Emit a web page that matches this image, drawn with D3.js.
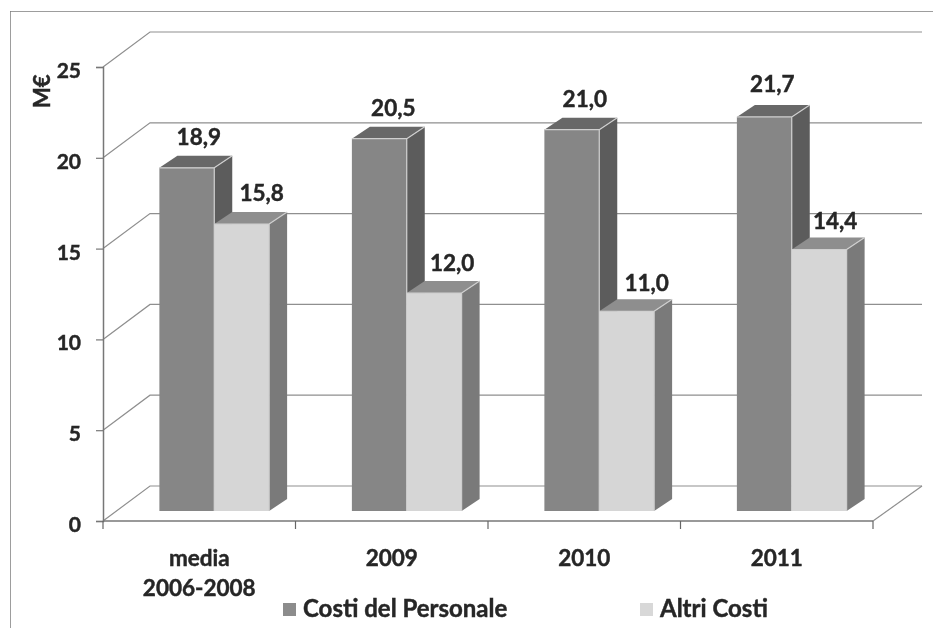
<!DOCTYPE html>
<html lang="en">
	<head>
		<meta charset="utf-8">
		<title>Costi</title>
		<script src="https://d3js.org/d3.v7.min.js"></script>
		<style type="text/css">
			html, body { margin: 0; padding: 0; background: #fff; }
			svg { display: block; }
			text { font-family: Lato, "Open Sans", sans-serif; font-weight: 700; fill: #262626; stroke: #262626; stroke-width: 0.45; }
		</style>
	</head>
	<body>
		<script type="text/javascript">
			//Data
			var categories = [["media", "2006-2008"], ["2009"], ["2010"], ["2011"]];
			var seriesNames = ["Costi del Personale", "Altri Costi"];
			var costiPersonale = [18.9, 20.5, 21.0, 21.7];
			var altriCosti = [15.8, 12.0, 11.0, 14.4];
			var yTicks = [0, 5, 10, 15, 20, 25];

			//Label nudges, per series and category
			var nudgeX = [[12, 14, 13, 8], [20, 18, 20, 16]];
			var nudgeY = [[1, 1, 1, -1], [1, 2, 4, 4]];

			//Width and height
			var w = 933;
			var h = 628;
			var left = 103, right = 873, top0 = 67, bottom = 521;
			var wallX = 47, wallY = 35;		//back wall offset
			var barShiftX = 15, barShiftY = 10;	//bar sits inside the floor
			var depthX = 18, depthY = 12;		//bar depth

			var names = categories.map(function(d) { return d.join(" "); });
			var series = [costiPersonale, altriCosti];

			var fronts = ["#868686", "#d6d6d6"];
			var tops = ["#686868", "#8e8e8e"];
			var sides = ["#5c5c5c", "#7a7a7a"];
			var legendColors = ["#8c8c8c", "#d8d8d8"];

			//Scales
			var x0 = d3.scaleBand().domain(names).range([left, right]).paddingInner(0.43).paddingOuter(0.215);
			var x1 = d3.scaleBand().domain([0, 1]).range([0, x0.bandwidth()]);
			var y = d3.scaleLinear().domain([0, 25]).range([bottom, top0]);

			var svg = d3.select("body").append("svg").attr("width", w).attr("height", h);

			var defs = svg.append("defs");
			defs.append("filter").attr("id", "scan")
				.attr("x", 0).attr("y", 0).attr("width", 1).attr("height", 1)
				.append("feGaussianBlur").attr("stdDeviation", 0.7);

			var g = svg.append("g").attr("filter", "url(#scan)");

			//Frame, only top and left show
			g.append("path")
				.attr("d", "M10,628V11H933")
				.attr("fill", "none").attr("stroke", "#7d7d7d").attr("stroke-width", 1.5);

			//Walls and gridlines
			g.append("g").selectAll("path")
				.data(yTicks)
				.enter()
				.append("path")
				.attr("fill", "none")
				.attr("stroke", "#8f8f8f")
				.attr("stroke-width", 1.2)
				.attr("d", function(d) {
					var p = y(d);
					return "M" + left + "," + p + "L" + (left + wallX) + "," + (p - wallY) + "H" + (right + wallX + 2);
				});

			//Floor right edge
			g.append("line")
				.attr("x1", right).attr("y1", bottom)
				.attr("x2", right + wallX + 2).attr("y2", bottom - wallY)
				.attr("stroke", "#8f8f8f").attr("stroke-width", 1.2);

			//Y axis
			var yAxis = d3.axisLeft(y).tickValues(yTicks).tickSize(7).tickPadding(15);
			var yG = g.append("g")
				.attr("transform", "translate(" + left + ",0)")
				.call(yAxis);
			yG.selectAll("line").attr("stroke", "#777").attr("stroke-width", 1.2);
			yG.select(".domain").attr("stroke", "#777").attr("stroke-width", 1.5);
			yG.selectAll("text").attr("font-size", 21).attr("dy", "0.5em").attr("fill", "#262626");

			//X axis
			var xAxis = d3.axisBottom(x0).tickSize(0).tickFormat("");
			var xG = g.append("g")
				.attr("transform", "translate(0," + bottom + ")")
				.call(xAxis);
			xG.select(".domain").attr("d", "M" + left + ",0H" + right).attr("stroke", "#777").attr("stroke-width", 1.5);

			xG.selectAll(".sep")
				.data(d3.range(names.length + 1))
				.enter()
				.append("line")
				.attr("class", "sep")
				.attr("x1", function(d) { return left + d * x0.step(); })
				.attr("x2", function(d) { return left + d * x0.step(); })
				.attr("y1", 0).attr("y2", 8)
				.attr("stroke", "#666").attr("stroke-width", 1.2);

			xG.selectAll(".cat")
				.data(categories)
				.enter()
				.append("text")
				.attr("class", "cat")
				.attr("text-anchor", "middle")
				.attr("font-size", 22.5)
				.attr("transform", function(d, i) {
					return "translate(" + (x0(names[i]) + x0.bandwidth() / 2) + ",0)";
				})
				.selectAll("tspan")
				.data(function(d) { return d; })
				.enter()
				.append("tspan")
				.attr("x", 0)
				.attr("y", function(d, i) { return 45 + i * 30; })
				.text(function(d) { return d; });

			//Y title
			g.append("text")
				.attr("transform", "translate(50,108) rotate(-90)")
				.attr("font-size", 22)
				.text("M€");

			//Bars, left to right so the depth overlaps correctly
			var marks = g.append("g");
			names.forEach(function(name, c) {
				series.forEach(function(values, s) {
					var v = values[c];
					var xa = x0(name) + x1(s) + barShiftX;
					var xb = xa + x1.bandwidth();
					var ya = y(v) - barShiftY;
					var yb = y(0) - barShiftY;

					var bar = marks.append("g");
					bar.append("path")	//side
						.attr("fill", sides[s])
						.attr("d", "M" + xb + "," + ya + "l" + depthX + "," + (-depthY) + "V" + (yb - depthY) + "L" + xb + "," + yb + "Z");
					bar.append("path")	//top
						.attr("fill", tops[s])
						.attr("d", "M" + xa + "," + ya + "l" + depthX + "," + (-depthY) + "H" + (xb + depthX) + "L" + xb + "," + ya + "Z");
					bar.append("rect")	//front
						.attr("x", xa).attr("y", ya)
						.attr("width", xb - xa).attr("height", yb - ya)
						.attr("fill", fronts[s]);
					bar.append("path")	//light edge
						.attr("fill", "none")
						.attr("stroke", "#cfcfcf")
						.attr("stroke-width", 1.2)
						.attr("d", "M" + xa + "," + ya + "H" + xb + "V" + yb + "M" + xb + "," + ya + "l" + depthX + "," + (-depthY));
				});
			});

			//Value labels on top of every bar
			names.forEach(function(name, c) {
				series.forEach(function(values, s) {
					g.append("text")
						.attr("text-anchor", "middle")
						.attr("font-size", 22.5)
						.attr("x", x0(name) + x1(s) + barShiftX + x1.bandwidth() / 2 + nudgeX[s][c])
						.attr("y", y(values[c]) - barShiftY - depthY - 12 + nudgeY[s][c])
						.text(d3.format(".1f")(values[c]).replace(".", ","));
				});
			});

			//Legend
			var legendX = [283, 640];
			var legend = g.selectAll(".legend")
				.data(seriesNames)
				.enter()
				.append("g")
				.attr("class", "legend")
				.attr("transform", function(d, i) { return "translate(" + legendX[i] + ",617)"; });
			legend.append("rect")
				.attr("x", 0).attr("y", -14).attr("width", 13).attr("height", 13)
				.attr("fill", function(d, i) { return legendColors[i]; });
			legend.append("text")
				.attr("x", 20)
				.attr("font-size", 24)
				.text(function(d) { return d; });
		</script>
	</body>
</html>
